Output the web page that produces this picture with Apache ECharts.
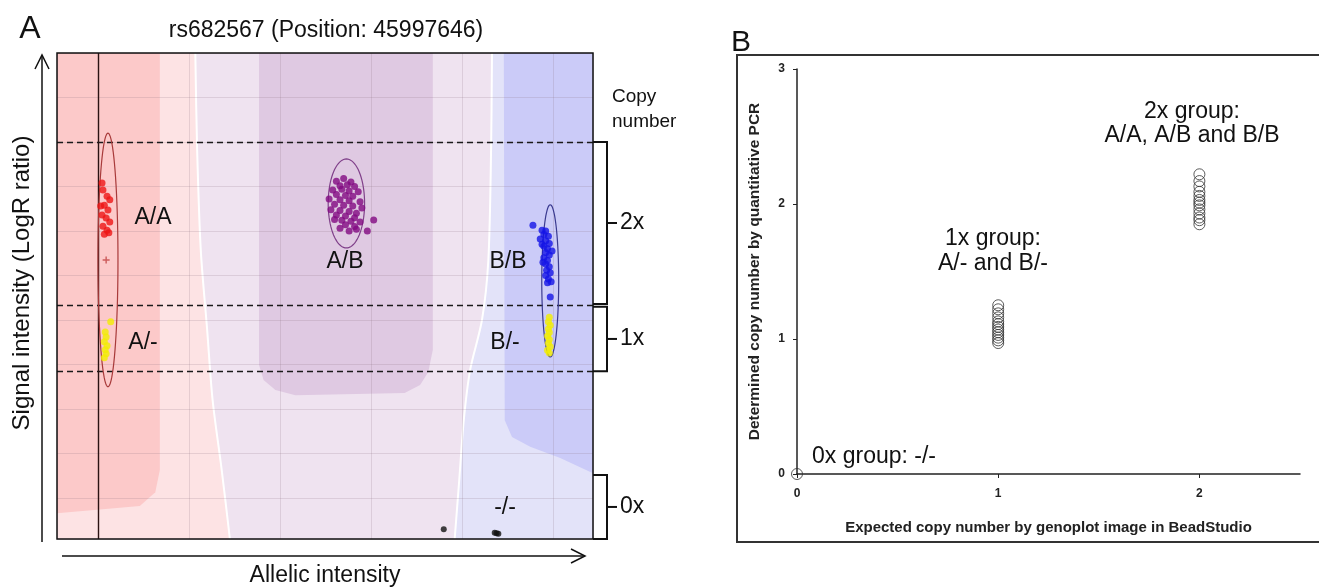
<!DOCTYPE html>
<html>
<head>
<meta charset="utf-8">
<script src="https://cdn.jsdelivr.net/npm/echarts@6/dist/echarts.min.js"></script>
<style>
  html, body { margin: 0; padding: 0; background: #fff; }
  #chart { width: 1319px; height: 587px; }
</style>
</head>
<body>
<div id="chart"></div>
<script>
// ---- panel A : genoplot (x = allelic intensity, y = LogR signal) ----
const xMin = -0.45, xMax = 5.44, yMin = -0.92, yMax = 10;

const aaPoints = [[0.045, 7.08], [0.055, 6.92], [0.10, 6.78], [0.13, 6.70], [0.07, 6.58], [0.11, 6.47],
  [0.045, 6.36], [0.09, 6.29], [0.13, 6.20], [0.055, 6.11], [0.10, 6.02], [0.07, 5.93], [0.12, 5.96], [0.03, 6.56]];
const aaCentre = [[0.09, 5.35]];
const abPoints = [[2.62, 7.12], [2.70, 7.18], [2.78, 7.10], [2.66, 7.02], [2.74, 7.04], [2.82, 7.00], [2.58, 6.92],
  [2.68, 6.94], [2.76, 6.90], [2.86, 6.88], [2.62, 6.82], [2.72, 6.80], [2.80, 6.78], [2.54, 6.72], [2.66, 6.70],
  [2.76, 6.68], [2.88, 6.66], [2.60, 6.60], [2.70, 6.58], [2.80, 6.56], [2.90, 6.52], [2.56, 6.48], [2.66, 6.46],
  [2.76, 6.44], [2.84, 6.40], [2.62, 6.36], [2.72, 6.34], [2.82, 6.30], [2.68, 6.24], [2.78, 6.22], [2.88, 6.20],
  [2.60, 6.26], [2.72, 6.14], [2.82, 6.10], [2.66, 6.06], [2.76, 6.00], [2.84, 6.04], [3.03, 6.25], [2.96, 6.00]];
const bbPoints = [[4.78, 6.13], [4.88, 6.02], [4.92, 6.00], [4.90, 5.92], [4.95, 5.88], [4.86, 5.82], [4.92, 5.78],
  [4.96, 5.72], [4.90, 5.66], [4.94, 5.60], [4.92, 5.52], [4.96, 5.46], [4.90, 5.40], [4.94, 5.34], [4.92, 5.26],
  [4.96, 5.20], [4.93, 5.12], [4.97, 5.06], [4.92, 5.00], [4.95, 4.92], [4.98, 4.86], [4.94, 4.84], [4.97, 4.52],
  [4.88, 5.70], [4.99, 5.55], [4.89, 5.30]];
const aDelPoints = [[0.14, 3.96], [0.08, 3.73], [0.09, 3.62], [0.07, 3.51], [0.10, 3.42], [0.08, 3.33], [0.09, 3.24], [0.07, 3.15]];
const bDelPoints = [[4.96, 4.06], [4.95, 3.96], [4.97, 3.88], [4.95, 3.80], [4.96, 3.72], [4.94, 3.64], [4.96, 3.56],
  [4.95, 3.48], [4.97, 3.40], [4.94, 3.32], [4.96, 3.26]];
const nullPoints = [[3.80, -0.70], [4.36, -0.78], [4.40, -0.80], [4.38, -0.79]];

// cx, cy, rx, ry
const clusterEllipses = [[0.11, 5.35, 0.11, 2.85], [2.73, 6.62, 0.20, 1.00], [4.97, 4.88, 0.093, 1.71]];
const copyCutoffs = [8.0, 4.34, 2.85];
const copyBands = [['2x', 8.0, 4.36], ['1x', 4.30, 2.85], ['0x', 0.52, -0.92]];

// call zones of the genoplot
const whiteLineLeft = [[1.07, 10], [1.09, 7.82], [1.13, 5.57], [1.20, 3.78], [1.26, 2.20], [1.36, 0.63], [1.45, -0.92]];
const whiteLineRight = [[4.33, 10], [4.32, 7.82], [4.29, 5.35], [4.22, 4.0], [4.09, 2.88], [4.02, 1.75], [3.97, 0.40], [3.92, -0.92]];
const redZone = [[-0.45, 10], [0.68, 10], [0.68, 0.63], [0.63, 0.13], [0.46, -0.18], [-0.45, -0.34]];
const purpleZone = [[1.77, 10], [3.68, 10], [3.68, 3.33], [3.63, 2.83], [3.54, 2.54], [3.37, 2.36], [2.17, 2.31],
  [1.95, 2.43], [1.82, 2.65], [1.77, 2.99]];
const blueZone = [[4.46, 10], [5.44, 10], [5.44, 0.56], [5.08, 0.90], [4.75, 1.15], [4.55, 1.37], [4.47, 1.75]];

// ---- panel B : qPCR vs expected copy number ----
const expectedCopy = [0, 1, 2];
const qpcr0x = [0];
const qpcr1x = [1.25, 1.22, 1.19, 1.16, 1.13, 1.11, 1.09, 1.07, 1.05, 1.03, 1.01, 0.99, 0.97];
const qpcr2x = [2.22, 2.17, 2.13, 2.09, 2.06, 2.03, 2.01, 1.99, 1.96, 1.93, 1.90, 1.88, 1.85];

const FONT = "'Liberation Sans', Arial, sans-serif";

const zones = [
  { pts: [[xMin, yMax], ...whiteLineLeft, [xMin, yMin]], fill: '#fde3e4' },
  { pts: redZone, fill: '#fcc9c9' },
  { pts: purpleZone, fill: '#dfc9e2' },
  { pts: [...whiteLineRight, [xMax, yMin], [xMax, yMax]], fill: '#e3e3f9' },
  { pts: blueZone, fill: '#cbcbf8' }
];
const ellipseColors = ['#a83a3a', '#80408a', '#3a3a90'];

const chart = echarts.init(document.getElementById('chart'), null, { renderer: 'canvas' });

function dots(data, color, size) {
  return {
    type: 'scatter', xAxisIndex: 0, yAxisIndex: 0, z: 6, data: data,
    symbolSize: size || 7, itemStyle: { color: color }, silent: true
  };
}
function rings(x, vals) {
  return {
    type: 'scatter', xAxisIndex: 1, yAxisIndex: 1, z: 6, clip: false, silent: true,
    data: vals.map(v => [x, v]), symbol: 'circle', symbolSize: 11,
    itemStyle: { color: 'rgba(0,0,0,0)', borderColor: '#333', borderWidth: 1 }
  };
}

const option = {
  animation: false,
  backgroundColor: '#fff',
  grid: [
    { left: 57, top: 53, width: 536, height: 486, show: true, backgroundColor: '#efe3f0', borderWidth: 0, z: 0 },
    { left: 797, top: 69, width: 503, height: 405 }
  ],
  xAxis: [
    {
      type: 'value', gridIndex: 0, min: xMin, max: xMax, splitNumber: 6, z: 1,
      axisLine: { show: false }, axisTick: { show: false }, axisLabel: { show: false },
      splitLine: { show: true, lineStyle: { color: 'rgba(140,115,130,0.2)', width: 1 } }
    },
    {
      type: 'value', gridIndex: 1, min: 0, max: 2.5, interval: 1,
      axisLine: { show: true, lineStyle: { color: '#222', width: 1.5 } },
      axisTick: { show: true, customValues: expectedCopy, length: 4, lineStyle: { color: '#222' } },
      axisLabel: { customValues: expectedCopy, color: '#222', fontWeight: 'bold', fontSize: 12, margin: 14, fontFamily: FONT },
      splitLine: { show: false },
      name: 'Expected copy number by genoplot image in BeadStudio', nameLocation: 'middle', nameGap: 46,
      nameTextStyle: { color: '#222', fontWeight: 'bold', fontSize: 15, fontFamily: FONT }
    }
  ],
  yAxis: [
    {
      type: 'value', gridIndex: 0, min: yMin, max: yMax, splitNumber: 11, z: 1,
      axisLine: { show: false }, axisTick: { show: false }, axisLabel: { show: false },
      splitLine: { show: true, lineStyle: { color: 'rgba(140,115,130,0.2)', width: 1 } }
    },
    {
      type: 'value', gridIndex: 1, min: 0, max: 3, interval: 1,
      axisLine: { show: true, lineStyle: { color: '#222', width: 1.5 } },
      axisTick: { show: true, length: 4, lineStyle: { color: '#222' } },
      axisLabel: { color: '#222', fontWeight: 'bold', fontSize: 12, margin: 12, fontFamily: FONT },
      splitLine: { show: false },
      name: 'Determined copy number by quantitative PCR', nameLocation: 'middle', nameGap: 34, nameRotate: 90,
      nameTextStyle: { color: '#222', fontWeight: 'bold', fontSize: 15.5, fontFamily: FONT }
    }
  ],
  series: [
    {
      type: 'custom', xAxisIndex: 0, yAxisIndex: 0, z: 0.5, silent: true,
      data: zones.map(() => [0, 0]),
      renderItem: function (params, api) {
        const z = zones[params.dataIndex];
        return { type: 'polygon', shape: { points: z.pts.map(p => api.coord(p)) }, style: { fill: z.fill } };
      }
    },
    {
      type: 'line', xAxisIndex: 0, yAxisIndex: 0, z: 0.6, silent: true, data: whiteLineLeft,
      showSymbol: false, lineStyle: { color: '#fff', width: 2 }, smooth: 0.3
    },
    {
      type: 'line', xAxisIndex: 0, yAxisIndex: 0, z: 0.6, silent: true, data: whiteLineRight,
      showSymbol: false, lineStyle: { color: '#fff', width: 2 }, smooth: 0.3
    },
    {
      type: 'custom', xAxisIndex: 0, yAxisIndex: 0, z: 5, silent: true,
      data: clusterEllipses,
      renderItem: function (params, api) {
        const cx = api.value(0), cy = api.value(1), rx = api.value(2), ry = api.value(3);
        const pts = [];
        for (let k = 0; k <= 80; k++) {
          const t = k / 80 * Math.PI * 2;
          pts.push(api.coord([cx + rx * Math.cos(t), cy + ry * Math.sin(t)]));
        }
        return { type: 'polyline', shape: { points: pts },
          style: { stroke: ellipseColors[params.dataIndex], fill: 'none', lineWidth: 1.2 } };
      }
    },
    Object.assign(dots(aaPoints, '#ee1515'), {
      markLine: {
        silent: true, symbol: 'none', label: { show: false },
        lineStyle: { type: [6, 4], color: '#1a1a1a', width: 1.4 },
        data: copyCutoffs.map(v => ({ yAxis: v })).concat([
          { xAxis: 0, lineStyle: { type: 'solid', color: '#2a1212', width: 1.4 } }
        ])
      }
    }),
    dots(abPoints, '#820a82'),
    dots(bbPoints, '#1414e6'),
    dots(aDelPoints, '#f2ee00'),
    dots(bDelPoints, '#f2ee00'),
    dots(nullPoints, '#111111', 6),
    Object.assign(dots(aaCentre, '#c04040', 7), { symbol: 'path://M4,0h2v4h4v2h-4v4h-2v-4h-4v-2h4z' }),
    rings(expectedCopy[0], qpcr0x),
    rings(expectedCopy[1], qpcr1x),
    rings(expectedCopy[2], qpcr2x)
  ]
};
chart.setOption(option);

// annotations: texts, arrows, brackets, frames
function txt(x, y, s, size, align, rot) {
  return {
    type: 'text', x: x, y: y, z: 20, silent: true, rotation: rot || 0,
    style: { text: s, fill: '#111', font: size + 'px ' + FONT, align: align || 'center', verticalAlign: 'middle' }
  };
}
function seg(pts, w) {
  return { type: 'polyline', z: 20, silent: true, shape: { points: pts }, style: { stroke: '#111', lineWidth: w || 1.5, fill: null } };
}

const g = [];
g.push(txt(30, 29, 'A', 32));
g.push(txt(326, 31, 'rs682567 (Position: 45997646)', 23));
g.push(txt(741, 43, 'B', 30));
g.push(txt(22, 283, 'Signal intensity (LogR ratio)', 24, 'center', Math.PI / 2));
g.push(txt(325, 576, 'Allelic intensity', 23));
g.push(seg([[42, 542], [42, 56]]));
g.push(seg([[35, 69], [42, 55], [49, 69]]));
g.push(seg([[62, 556], [585, 556]]));
g.push(seg([[571, 549], [585, 556], [571, 563]]));
g.push({ type: 'rect', z: 20, silent: true, shape: { x: 57, y: 53, width: 536, height: 486 },
  style: { fill: null, stroke: '#111', lineWidth: 1.5 } });
// cluster labels
[['A/A', 153, 218], ['A/B', 345, 262], ['B/B', 508, 262], ['A/-', 143, 343], ['B/-', 505, 343], ['-/-', 505, 508]]
  .forEach(l => g.push(txt(l[1], l[2], l[0], 23)));
g.push(txt(612, 97, 'Copy', 19, 'left'));
g.push(txt(612, 122, 'number', 19, 'left'));
copyBands.forEach(b => {
  const top = chart.convertToPixel({ gridIndex: 0 }, [xMax, b[1]]);
  const bot = chart.convertToPixel({ gridIndex: 0 }, [xMax, b[2]]);
  const bx = top[0] + 14, mid = (top[1] + bot[1]) / 2;
  g.push(seg([[top[0], top[1]], [bx, top[1]], [bx, bot[1]], [top[0], bot[1]]], 2));
  g.push(seg([[bx, mid], [bx + 10, mid]], 2));
  g.push(txt(bx + 13, mid, b[0], 23, 'left'));
});
// panel B frame and group notes
g.push({ type: 'rect', z: 20, silent: true, shape: { x: 737, y: 55, width: 620, height: 487 },
  style: { fill: null, stroke: '#333', lineWidth: 2 } });
g.push(txt(1192, 112, '2x group:', 23));
g.push(txt(1192, 136, 'A/A, A/B and B/B', 23));
g.push(txt(993, 239, '1x group:', 23));
g.push(txt(993, 264, 'A/- and B/-', 23));
g.push(txt(812, 457, '0x group: -/-', 23, 'left'));

chart.setOption({ graphic: g });
window.addEventListener('resize', chart.resize);
</script>
</body>
</html>
